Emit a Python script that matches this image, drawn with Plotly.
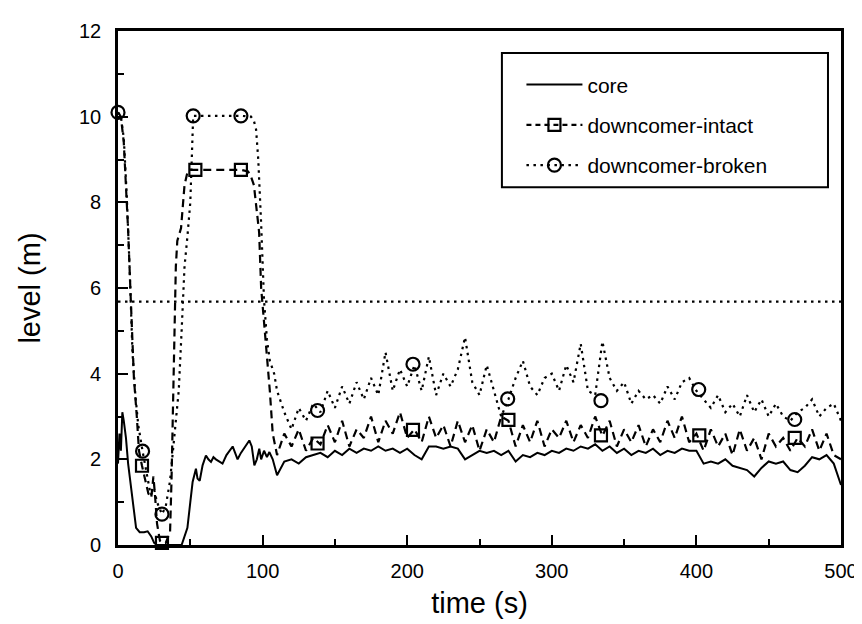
import plotly.graph_objects as go

# ---------------- data ----------------
noise_t = list(range(110, 505, 5))

core_t_early = [0, 1, 2, 3, 4, 5.5, 7, 9, 11, 12.5, 15, 18, 20.5, 23, 25, 27, 44, 45, 48, 50,
                51.6, 53.9, 55, 56.5, 58.5, 60.8, 62.5, 64.3, 66, 67.7, 70, 72.3, 75, 77, 79.3,
                81, 82.7, 85, 88, 90.8, 92.5, 94.3, 96, 97.7, 99, 101, 103, 104.7, 107, 108.5]
core_v_early = [1.9, 2.6, 2.2, 3.1, 2.9, 2.5, 1.9, 1.3, 0.7, 0.4, 0.3, 0.3, 0.32, 0.2, 0.05, 0.0, 0.0, 0.1, 0.4, 1.0,
                1.47, 1.78, 1.55, 1.5, 1.86, 2.09, 2.0, 1.94, 2.05, 2.0, 1.95, 1.9, 2.1, 2.2, 2.3,
                2.15, 2.0, 2.15, 2.3, 2.44, 2.3, 1.86, 2.0, 2.25, 2.0, 2.2, 2.05, 2.17, 2.0, 1.8]
core_v_late = [1.63, 1.95, 2.0, 1.9, 2.05, 2.1, 2.15, 2.05, 2.2, 2.1, 2.25, 2.15, 2.25, 2.2, 2.3, 2.2,
               2.25, 2.15, 2.25, 2.1, 2.0, 2.3, 2.3, 2.25, 2.3, 2.25, 2.0, 2.1, 2.2, 2.15, 2.2, 2.1,
               2.2, 1.95, 2.1, 2.05, 2.15, 2.1, 2.2, 2.15, 2.25, 2.2, 2.3, 2.25, 2.35, 2.2, 2.3, 2.15,
               2.25, 2.1, 2.2, 2.15, 2.25, 2.1, 2.2, 2.15, 2.25, 2.2, 2.2, 1.9, 1.95, 1.9, 2.0, 1.85,
               1.8, 1.75, 1.6, 1.8, 1.95, 1.9, 1.95, 1.75, 1.7, 1.85, 2.05, 2.0, 2.1, 1.9, 1.4]

intact_t_early = [0, 2, 4, 5.5, 7, 9, 11, 13, 14.5, 16.6, 19, 21, 23, 24.5, 25.5, 27, 29, 30.4, 33, 35,
                  36, 37, 38, 39, 40, 41, 43.6, 46, 48, 50, 53.5, 70, 85, 90, 92, 94, 96, 97.6, 99,
                  101, 103, 105, 107]
intact_v_early = [10.1, 10.0, 9.4, 8.5, 7.35, 5.6, 3.9, 3.0, 2.2, 1.85, 1.5, 1.2, 1.1, 1.6, 1.2, 0.5, 0.1, 0.05, 0.05, 0.2,
                  0.3, 1.5, 3.0, 4.5, 6.5, 7.1, 7.4, 8.4, 8.7, 8.76, 8.76, 8.76, 8.76, 8.72, 8.6, 8.4, 7.8, 7.3, 6.0,
                  5.2, 4.2, 3.6, 2.6]
intact_v_late = [2.1, 2.6, 2.3, 2.7, 2.2, 2.5, 2.35, 2.8, 2.4, 2.9, 2.3, 2.7, 2.5, 3.0, 2.4, 2.9,
                 2.6, 3.1, 2.5, 2.7, 2.4, 3.0, 2.5, 2.8, 2.3, 2.9, 2.4, 2.8, 2.2, 2.7, 2.4, 3.0,
                 2.9, 2.3, 2.8, 2.4, 2.9, 2.3, 2.7, 2.5, 2.9, 2.4, 2.8, 2.5, 3.0, 2.55, 2.9, 2.3,
                 2.7, 2.4, 2.8, 2.3, 2.7, 2.4, 2.9, 2.5, 3.0, 2.4, 2.6, 2.2, 2.7, 2.3, 2.6, 2.1,
                 2.7, 2.2, 2.5, 2.0, 2.6, 2.3, 2.5, 2.2, 2.5, 2.3, 2.7, 2.2, 2.6, 2.1, 2.0]
intact_mk_t = [16.6, 30.4, 53.5, 85, 138, 204, 270, 334, 402, 468]
intact_mk_v = [1.85, 0.05, 8.76, 8.76, 2.37, 2.69, 2.92, 2.56, 2.56, 2.5]

broken_t_early = [0, 2, 4, 6, 8, 10, 12, 14, 17, 20, 22.6, 25, 27, 30.4, 33, 36, 38, 40, 42, 44,
                  46, 48, 50, 51, 52, 70, 85, 92, 94, 95.5, 97, 99, 101, 103, 105, 108]
broken_v_early = [10.1, 10.0, 9.5, 8.2, 6.5, 4.5, 3.5, 2.8, 2.19, 1.6, 1.17, 1.3, 1.0, 0.72, 0.9, 1.5, 2.2, 2.9, 3.6, 5.0,
                  6.5, 7.2, 8.0, 9.0, 10.02, 10.02, 10.02, 10.0, 9.9, 9.7, 9.0, 7.5, 5.7, 4.8, 4.3, 4.0]
broken_v_late = [3.6, 3.1, 2.7, 3.2, 2.9, 3.3, 3.1, 3.6, 3.2, 3.7, 3.3, 3.8, 3.4, 3.9, 3.5, 4.5,
                 3.6, 4.1, 3.7, 4.2, 3.6, 4.4, 3.5, 4.0, 3.7, 4.1, 4.85, 3.8, 3.5, 4.2, 3.6, 3.0,
                 3.4, 3.9, 4.3, 3.7, 3.5, 3.9, 4.0, 3.6, 4.2, 3.8, 4.7, 3.6, 3.5, 4.75, 3.9, 3.6,
                 3.8, 3.3, 3.6, 3.4, 3.5, 3.3, 3.7, 3.4, 3.8, 3.9, 3.6, 3.4, 3.2, 3.5, 3.1, 3.3,
                 3.0, 3.5, 3.1, 3.4, 3.0, 3.3, 3.0, 2.9, 3.1, 3.2, 3.4, 3.0, 3.2, 3.3, 2.9]
broken_mk_t = [0, 17, 30.4, 52, 85, 138, 204, 269.5, 334, 401.6, 468]
broken_mk_v = [10.1, 2.19, 0.72, 10.02, 10.02, 3.14, 4.22, 3.41, 3.37, 3.63, 2.93]

ref_t = [0, 500]
ref_v = [5.68, 5.68]

x_ticks = [0, 100, 200, 300, 400, 500]
y_ticks = [0, 2, 4, 6, 8, 10, 12]

FONT = "Liberation Sans, Arial, sans-serif"
BLACK = "#000000"
DASH = "8px,5px"
DOT = "2.5px,4.5px"

# ---------------- figure ----------------
fig = go.Figure()

fig.add_trace(go.Scatter(x=ref_t, y=ref_v, mode="lines", showlegend=False,
                         line=dict(color=BLACK, width=2.2, dash=DOT)))

fig.add_trace(go.Scatter(x=core_t_early + noise_t, y=core_v_early + core_v_late, mode="lines",
                         name="core", legendgroup="a",
                         line=dict(color=BLACK, width=2)))

fig.add_trace(go.Scatter(x=intact_t_early + noise_t, y=intact_v_early + intact_v_late, mode="lines",
                         showlegend=False,
                         line=dict(color=BLACK, width=2.2, dash=DASH)))
fig.add_trace(go.Scatter(x=intact_mk_t, y=intact_mk_v, mode="markers", showlegend=False, cliponaxis=False,
                         marker=dict(symbol="square-open", size=12, color=BLACK, line=dict(width=2.2))))
fig.add_trace(go.Scatter(x=[None], y=[None], mode="lines+markers", name="downcomer-intact", legendgroup="b",
                         line=dict(color=BLACK, width=2.2, dash="5px,4px"),
                         marker=dict(symbol="square-open", size=12, color=BLACK, line=dict(width=2.2))))

fig.add_trace(go.Scatter(x=broken_t_early + noise_t, y=broken_v_early + broken_v_late, mode="lines",
                         showlegend=False,
                         line=dict(color=BLACK, width=2.2, dash=DOT)))
fig.add_trace(go.Scatter(x=broken_mk_t, y=broken_mk_v, mode="markers", showlegend=False, cliponaxis=False,
                         marker=dict(symbol="circle-open", size=13, color=BLACK, line=dict(width=2.2))))
fig.add_trace(go.Scatter(x=[None], y=[None], mode="lines+markers", name="downcomer-broken", legendgroup="c",
                         line=dict(color=BLACK, width=2.2, dash=DOT),
                         marker=dict(symbol="circle-open", size=13, color=BLACK, line=dict(width=2.2))))

axis_common = dict(showgrid=False, zeroline=False, showline=True, linecolor=BLACK, linewidth=2.6,
                   mirror=True, ticks="inside", tickcolor=BLACK, tickwidth=1.8, ticklen=10,
                   tickfont=dict(family=FONT, size=20, color=BLACK),
                   title_font=dict(family=FONT, size=29, color=BLACK))

fig.update_xaxes(range=[0, 500], tickvals=x_ticks, title_text="time (s)", title_standoff=12,
                 minor=dict(dtick=50, ticks="inside", ticklen=6, tickcolor=BLACK, tickwidth=1.8),
                 ticklabelstandoff=6, **axis_common)
fig.update_yaxes(range=[0, 12], tickvals=y_ticks, title_text="level (m)", title_standoff=30,
                 minor=dict(dtick=1, ticks="inside", ticklen=6, tickcolor=BLACK, tickwidth=1.8),
                 ticklabelstandoff=10, **axis_common)

fig.add_shape(type="rect", xref="paper", yref="paper", x0=0.531, x1=0.982, y0=0.696, y1=0.957,
              line=dict(color=BLACK, width=2), fillcolor="rgba(0,0,0,0)")

fig.update_layout(
    width=862, height=624,
    margin=dict(l=110, r=27, t=20, b=87),
    paper_bgcolor="white", plot_bgcolor="white",
    font=dict(family=FONT, color=BLACK),
    legend=dict(x=0.558, y=0.935, xanchor="left", yanchor="top",
                bgcolor="rgba(0,0,0,0)", borderwidth=0,
                font=dict(family=FONT, size=21, color=BLACK),
                itemwidth=56, tracegroupgap=10),
    showlegend=True,
)

fig.write_html("out.html")
